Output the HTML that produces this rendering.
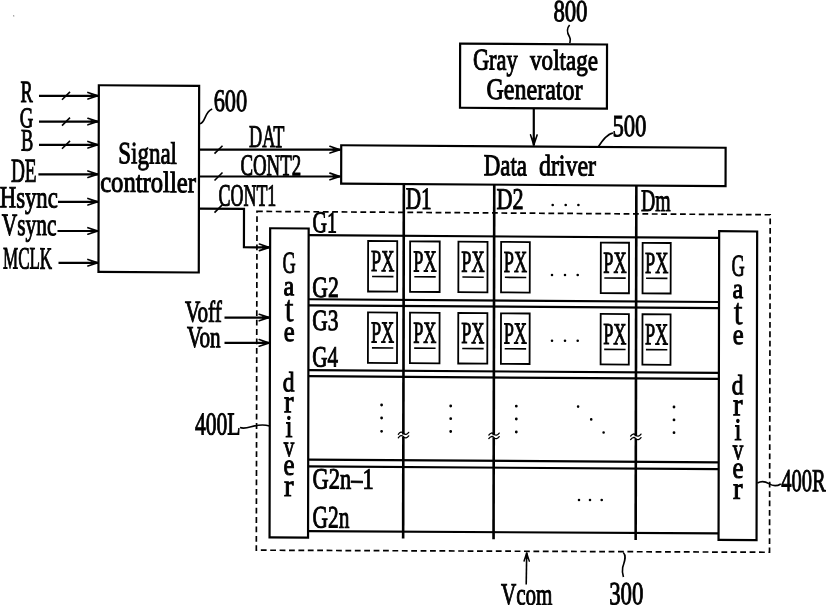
<!DOCTYPE html>
<html><head><meta charset="utf-8"><style>
html,body{margin:0;padding:0;background:#fff;width:826px;height:605px;overflow:hidden}
svg{display:block;will-change:transform}
text{font-family:"Liberation Serif",serif;fill:#000;stroke:#000;stroke-width:1.0px;font-weight:normal}
</style></head><body>
<svg width="826" height="605" viewBox="0 0 826 605">
<g transform="matrix(1 0.0066 -0.002 1 0.42 -1.716)" stroke="#000" stroke-linecap="butt">
<line x1="38.77" y1="97.26" x2="98.27" y2="96.87" stroke-width="2.2"/>
<path d="M87.67 100.17 L97.67 96.87 L87.67 93.57" stroke-width="1.6" fill="none" stroke-linecap="round" stroke-linejoin="round"/>
<path d="M90.67 98.02 L97.67 96.87 L90.67 95.71 Z" stroke-width="0.8" fill="#000" stroke-linejoin="round"/>
<line x1="61.77" y1="101.08" x2="69.77" y2="93.08" stroke-width="1.6"/>
<line x1="38.82" y1="123.06" x2="98.32" y2="122.67" stroke-width="2.2"/>
<path d="M87.72 125.97 L97.72 122.67 L87.72 119.37" stroke-width="1.6" fill="none" stroke-linecap="round" stroke-linejoin="round"/>
<path d="M90.72 123.82 L97.72 122.67 L90.72 121.51 Z" stroke-width="0.8" fill="#000" stroke-linejoin="round"/>
<line x1="61.82" y1="126.88" x2="69.82" y2="118.88" stroke-width="1.6"/>
<line x1="38.87" y1="146.26" x2="98.37" y2="145.87" stroke-width="2.2"/>
<path d="M87.77 149.17 L97.77 145.87 L87.77 142.57" stroke-width="1.6" fill="none" stroke-linecap="round" stroke-linejoin="round"/>
<path d="M90.77 147.02 L97.77 145.87 L90.77 144.71 Z" stroke-width="0.8" fill="#000" stroke-linejoin="round"/>
<line x1="61.87" y1="150.08" x2="69.87" y2="142.08" stroke-width="1.6"/>
<line x1="38.33" y1="175.76" x2="98.43" y2="175.37" stroke-width="2.2"/>
<path d="M87.83 178.67 L97.83 175.37 L87.83 172.07" stroke-width="1.6" fill="none" stroke-linecap="round" stroke-linejoin="round"/>
<path d="M90.83 176.52 L97.83 175.37 L90.83 174.21 Z" stroke-width="0.8" fill="#000" stroke-linejoin="round"/>
<line x1="57.98" y1="203.13" x2="98.48" y2="202.87" stroke-width="2.2"/>
<path d="M87.88 206.17 L97.88 202.87 L87.88 199.57" stroke-width="1.6" fill="none" stroke-linecap="round" stroke-linejoin="round"/>
<path d="M90.88 204.02 L97.88 202.87 L90.88 201.71 Z" stroke-width="0.8" fill="#000" stroke-linejoin="round"/>
<line x1="57.54" y1="232.34" x2="98.54" y2="232.07" stroke-width="2.2"/>
<path d="M87.94 235.37 L97.94 232.07 L87.94 228.77" stroke-width="1.6" fill="none" stroke-linecap="round" stroke-linejoin="round"/>
<path d="M90.94 233.22 L97.94 232.07 L90.94 230.91 Z" stroke-width="0.8" fill="#000" stroke-linejoin="round"/>
<line x1="58.61" y1="264.13" x2="98.61" y2="263.87" stroke-width="2.2"/>
<path d="M88.01 267.17 L98.01 263.87 L88.01 260.57" stroke-width="1.6" fill="none" stroke-linecap="round" stroke-linejoin="round"/>
<path d="M91.01 265.02 L98.01 263.87 L91.01 262.71 Z" stroke-width="0.8" fill="#000" stroke-linejoin="round"/>
<rect x="98.6" y="86.3" width="100.3" height="186.6" stroke-width="2.2" fill="none"/>
<text x="20.33" y="103.58" font-size="30.86" textLength="12.3" lengthAdjust="spacingAndGlyphs">R</text>
<text x="19.63" y="128.79" font-size="28.67" textLength="13.55" lengthAdjust="spacingAndGlyphs">G</text>
<text x="20.83" y="151.98" font-size="31.16" textLength="12.25" lengthAdjust="spacingAndGlyphs">B</text>
<text x="10.89" y="183.34" font-size="33.75" textLength="25.7" lengthAdjust="spacingAndGlyphs">DE</text>
<text x="-0.26" y="209.02" font-size="30.56" textLength="58.0" lengthAdjust="spacingAndGlyphs">Hsync</text>
<text x="1.85" y="236.6" font-size="31.16" textLength="54.65" lengthAdjust="spacingAndGlyphs">Vsync</text>
<text x="3.17" y="270.1" font-size="31.18" textLength="49.05" lengthAdjust="spacingAndGlyphs">MCLK</text>
<text x="118.26" y="164.23" font-size="31.08" textLength="58.65" lengthAdjust="spacingAndGlyphs">Signal</text>
<text x="100.16" y="192.75" font-size="29.59" textLength="95.75" lengthAdjust="spacingAndGlyphs">controller</text>
<text x="213.5" y="111.41" font-size="31.52" textLength="33.5" lengthAdjust="spacingAndGlyphs">600</text>
<path d="M199.63 124.2 C205.63 123.2 204 112.32 212 109.32" stroke-width="1.6" fill="none"/>
<rect x="459.8" y="42.2" width="146.9" height="64.2" stroke-width="2.2" fill="none"/>
<text x="553.02" y="19.26" font-size="30.81" textLength="34.1" lengthAdjust="spacingAndGlyphs">800</text>
<text x="472.62" y="68.09" font-size="30.19" textLength="44.85" lengthAdjust="spacingAndGlyphs">Gray</text>
<text x="529.82" y="67.72" font-size="28.84" textLength="67.8" lengthAdjust="spacingAndGlyphs">voltage</text>
<text x="486.28" y="97.41" font-size="29.88" textLength="96.05" lengthAdjust="spacingAndGlyphs">Generator</text>
<text x="612.25" y="133.87" font-size="31.12" textLength="34.0" lengthAdjust="spacingAndGlyphs">500</text>
<path d="M569.23 22.96 C565.73 26.96 566.73 30.96 569.23 34.96 C570.73 37.46 569.53 39.46 569.53 40.96" stroke-width="1.6" fill="none"/>
<line x1="533.6" y1="106.19" x2="533.67" y2="143.69" stroke-width="2.2"/>
<path d="M530.37 133.09 L533.67 143.09 L536.97 133.09" stroke-width="1.6" fill="none" stroke-linecap="round" stroke-linejoin="round"/>
<path d="M532.52 136.09 L533.67 143.09 L534.83 136.09 Z" stroke-width="0.8" fill="#000" stroke-linejoin="round"/>
<rect x="341.1" y="144.7" width="384.4" height="38.4" stroke-width="2.2" fill="none"/>
<path d="M598.37 144.27 C602.37 138.27 606.85 131.67 612.85 130.67" stroke-width="1.6" fill="none"/>
<text x="483.68" y="173.72" font-size="30.4" textLength="43.25" lengthAdjust="spacingAndGlyphs">Data</text>
<text x="538.93" y="173.36" font-size="29.76" textLength="56.95" lengthAdjust="spacingAndGlyphs">driver</text>
<text x="248.92" y="147.07" font-size="31.87" textLength="35.45" lengthAdjust="spacingAndGlyphs">DAT</text>
<text x="240.33" y="175.13" font-size="30.05" textLength="60.75" lengthAdjust="spacingAndGlyphs">CONT2</text>
<text x="218.49" y="205.77" font-size="31.11" textLength="57.85" lengthAdjust="spacingAndGlyphs">CONT1</text>
<text x="405.75" y="207.84" font-size="31.11" textLength="25.95" lengthAdjust="spacingAndGlyphs">D1</text>
<text x="496.55" y="207.44" font-size="30.19" textLength="27.0" lengthAdjust="spacingAndGlyphs">D2</text>
<text x="641.05" y="208.49" font-size="31.47" textLength="29.65" lengthAdjust="spacingAndGlyphs">Dm</text>
<line x1="199.38" y1="150.1" x2="340.38" y2="149.17" stroke-width="2.2"/>
<path d="M329.78 152.47 L339.78 149.17 L329.78 145.87" stroke-width="1.6" fill="none" stroke-linecap="round" stroke-linejoin="round"/>
<path d="M332.78 150.32 L339.78 149.17 L332.78 148.01 Z" stroke-width="0.8" fill="#000" stroke-linejoin="round"/>
<line x1="214.38" y1="153.97" x2="222.38" y2="145.97" stroke-width="1.6"/>
<line x1="199.43" y1="176.9" x2="340.43" y2="175.97" stroke-width="2.2"/>
<path d="M329.83 179.27 L339.83 175.97 L329.83 172.67" stroke-width="1.6" fill="none" stroke-linecap="round" stroke-linejoin="round"/>
<path d="M332.83 177.12 L339.83 175.97 L332.83 174.81 Z" stroke-width="0.8" fill="#000" stroke-linejoin="round"/>
<line x1="214.43" y1="180.77" x2="222.43" y2="172.77" stroke-width="1.6"/>
<path d="M199 209 L244 209 L244 247.33 L270.07 247.33" stroke-width="2.2" fill="none"/>
<path d="M259.47 250.63 L269.47 247.33 L259.47 244.03" stroke-width="1.6" fill="none" stroke-linecap="round" stroke-linejoin="round"/>
<path d="M262.47 248.49 L269.47 247.33 L262.47 246.18 Z" stroke-width="0.8" fill="#000" stroke-linejoin="round"/>
<line x1="214.5" y1="212.87" x2="222.5" y2="204.87" stroke-width="1.6"/>
<path d="M257 211.4 L770.2 211.4 L770.2 548.9 L257 550.2 Z" stroke-width="1.7" fill="none" stroke-dasharray="5.8 3.6"/>
<rect x="270.2" y="228.2" width="38.5" height="309.2" stroke-width="2.2" fill="none"/>
<rect x="719.2" y="228.2" width="38" height="308.6" stroke-width="2.2" fill="none"/>
<line x1="308.7" y1="234.85" x2="719.2" y2="234.85" stroke-width="2.2"/>
<line x1="308.7" y1="298.95" x2="719.2" y2="298.95" stroke-width="2.2"/>
<line x1="308.7" y1="305.05" x2="719.2" y2="305.05" stroke-width="2.2"/>
<line x1="308.7" y1="369.85" x2="719.2" y2="369.85" stroke-width="2.2"/>
<line x1="308.7" y1="375.9" x2="719.2" y2="375.9" stroke-width="2.2"/>
<line x1="308.7" y1="459.25" x2="719.2" y2="459.25" stroke-width="2.2"/>
<line x1="308.7" y1="466.1" x2="719.2" y2="466.1" stroke-width="2.2"/>
<line x1="308.7" y1="530.9" x2="719.2" y2="530.3" stroke-width="2.2"/>
<line x1="403.8" y1="183.1" x2="403.8" y2="433.45" stroke-width="2.6" stroke-linecap="butt"/>
<line x1="403.8" y1="436.05" x2="403.8" y2="537.6" stroke-width="2.6" stroke-linecap="butt"/>
<line x1="494.2" y1="183.1" x2="494.2" y2="433.66" stroke-width="2.6" stroke-linecap="butt"/>
<line x1="494.2" y1="436.26" x2="494.2" y2="537.6" stroke-width="2.6" stroke-linecap="butt"/>
<line x1="636.3" y1="183.1" x2="636.3" y2="433.72" stroke-width="2.6" stroke-linecap="butt"/>
<line x1="636.3" y1="436.32" x2="636.3" y2="537.6" stroke-width="2.6" stroke-linecap="butt"/>
<rect x="368.2" y="240.3" width="29.1" height="50.5" stroke-width="1.8" fill="none"/>
<text x="371.15" y="270.4" font-size="30.7" textLength="23.25" lengthAdjust="spacingAndGlyphs">PX</text>
<line x1="372.2" y1="275.7" x2="393.6" y2="275.7" stroke-width="1.6"/>
<rect x="410.2" y="240.3" width="29.6" height="50.5" stroke-width="1.8" fill="none"/>
<text x="413.4" y="270.4" font-size="30.7" textLength="23.25" lengthAdjust="spacingAndGlyphs">PX</text>
<line x1="414.45" y1="275.7" x2="435.85" y2="275.7" stroke-width="1.6"/>
<rect x="458.5" y="240.3" width="29.1" height="50.5" stroke-width="1.8" fill="none"/>
<text x="461.45" y="270.4" font-size="30.7" textLength="23.25" lengthAdjust="spacingAndGlyphs">PX</text>
<line x1="462.5" y1="275.7" x2="483.9" y2="275.7" stroke-width="1.6"/>
<rect x="501.2" y="240.3" width="28.7" height="50.5" stroke-width="1.8" fill="none"/>
<text x="503.95" y="270.4" font-size="30.7" textLength="23.25" lengthAdjust="spacingAndGlyphs">PX</text>
<line x1="505" y1="275.7" x2="526.4" y2="275.7" stroke-width="1.6"/>
<rect x="600.9" y="240.3" width="28.2" height="50.5" stroke-width="1.8" fill="none"/>
<text x="603.4" y="270.4" font-size="30.7" textLength="23.25" lengthAdjust="spacingAndGlyphs">PX</text>
<line x1="604.45" y1="275.7" x2="625.85" y2="275.7" stroke-width="1.6"/>
<rect x="642.7" y="240.3" width="28.1" height="50.5" stroke-width="1.8" fill="none"/>
<text x="645.15" y="270.4" font-size="30.7" textLength="23.25" lengthAdjust="spacingAndGlyphs">PX</text>
<line x1="646.2" y1="275.7" x2="667.6" y2="275.7" stroke-width="1.6"/>
<rect x="368.2" y="311.7" width="29.1" height="50.5" stroke-width="1.8" fill="none"/>
<text x="371.15" y="341.8" font-size="30.7" textLength="23.25" lengthAdjust="spacingAndGlyphs">PX</text>
<line x1="372.2" y1="347.1" x2="393.6" y2="347.1" stroke-width="1.6"/>
<rect x="410.2" y="311.7" width="29.6" height="50.5" stroke-width="1.8" fill="none"/>
<text x="413.4" y="341.8" font-size="30.7" textLength="23.25" lengthAdjust="spacingAndGlyphs">PX</text>
<line x1="414.45" y1="347.1" x2="435.85" y2="347.1" stroke-width="1.6"/>
<rect x="458.5" y="311.7" width="29.1" height="50.5" stroke-width="1.8" fill="none"/>
<text x="461.45" y="341.8" font-size="30.7" textLength="23.25" lengthAdjust="spacingAndGlyphs">PX</text>
<line x1="462.5" y1="347.1" x2="483.9" y2="347.1" stroke-width="1.6"/>
<rect x="501.2" y="311.7" width="28.7" height="50.5" stroke-width="1.8" fill="none"/>
<text x="503.95" y="341.8" font-size="30.7" textLength="23.25" lengthAdjust="spacingAndGlyphs">PX</text>
<line x1="505" y1="347.1" x2="526.4" y2="347.1" stroke-width="1.6"/>
<rect x="600.9" y="311.7" width="28.2" height="50.5" stroke-width="1.8" fill="none"/>
<text x="603.4" y="341.8" font-size="30.7" textLength="23.25" lengthAdjust="spacingAndGlyphs">PX</text>
<line x1="604.45" y1="347.1" x2="625.85" y2="347.1" stroke-width="1.6"/>
<rect x="642.7" y="311.7" width="28.1" height="50.5" stroke-width="1.8" fill="none"/>
<text x="645.15" y="341.8" font-size="30.7" textLength="23.25" lengthAdjust="spacingAndGlyphs">PX</text>
<line x1="646.2" y1="347.1" x2="667.6" y2="347.1" stroke-width="1.6"/>
<text x="312.64" y="231.95" font-size="30.2" textLength="24.45" lengthAdjust="spacingAndGlyphs">G1</text>
<text x="312.47" y="296.65" font-size="29.43" textLength="26.45" lengthAdjust="spacingAndGlyphs">G2</text>
<text x="312.54" y="329.65" font-size="29.43" textLength="26.2" lengthAdjust="spacingAndGlyphs">G3</text>
<text x="312.61" y="366.15" font-size="29.43" textLength="25.7" lengthAdjust="spacingAndGlyphs">G4</text>
<text x="313.16" y="488.15" font-size="29.58" textLength="61.0" lengthAdjust="spacingAndGlyphs">G2n–1</text>
<text x="313.24" y="527.15" font-size="31.26" textLength="36.8" lengthAdjust="spacingAndGlyphs">G2n</text>
<text x="185.12" y="322.1" font-size="30.18" textLength="36.85" lengthAdjust="spacingAndGlyphs">Voff</text>
<text x="187.17" y="347.48" font-size="30.41" textLength="33.7" lengthAdjust="spacingAndGlyphs">Von</text>
<text x="195.35" y="434.83" font-size="32.02" textLength="45.6" lengthAdjust="spacingAndGlyphs">400L</text>
<text x="781.86" y="487.66" font-size="31.97" textLength="44.45" lengthAdjust="spacingAndGlyphs">400R</text>
<text x="501.79" y="602.91" font-size="31.01" textLength="51.5" lengthAdjust="spacingAndGlyphs">Vcom</text>
<text x="609.94" y="601.9" font-size="32.48" textLength="34.25" lengthAdjust="spacingAndGlyphs">300</text>
<text x="282.63" y="272.7" font-size="30.68" textLength="13.15" lengthAdjust="spacingAndGlyphs">G</text>
<text x="731.63" y="272.7" font-size="30.68" textLength="13.15" lengthAdjust="spacingAndGlyphs">G</text>
<text x="283.77" y="294.99" font-size="28.29" textLength="10.7" lengthAdjust="spacingAndGlyphs">a</text>
<text x="732.78" y="294.99" font-size="28.29" textLength="10.7" lengthAdjust="spacingAndGlyphs">a</text>
<text x="285.02" y="0" transform="translate(0 320.79) scale(1 1.195)" style="stroke-width:0.5px" font-size="31" textLength="8.8" lengthAdjust="spacingAndGlyphs">t</text>
<text x="734.03" y="0" transform="translate(0 320.79) scale(1 1.195)" style="stroke-width:0.5px" font-size="31" textLength="8.8" lengthAdjust="spacingAndGlyphs">t</text>
<text x="284.06" y="340.89" font-size="28.74" textLength="10.9" lengthAdjust="spacingAndGlyphs">e</text>
<text x="733.07" y="340.89" font-size="28.74" textLength="10.9" lengthAdjust="spacingAndGlyphs">e</text>
<text x="283.06" y="391.1" font-size="28.01" textLength="11.75" lengthAdjust="spacingAndGlyphs">d</text>
<text x="732.07" y="391.1" font-size="28.01" textLength="11.75" lengthAdjust="spacingAndGlyphs">d</text>
<text x="284.5" y="412.14" font-size="32.03" textLength="9.55" lengthAdjust="spacingAndGlyphs">r</text>
<text x="733.51" y="412.14" font-size="32.03" textLength="9.55" lengthAdjust="spacingAndGlyphs">r</text>
<text x="285.95" y="436.83" font-size="31.48" textLength="7.0" lengthAdjust="spacingAndGlyphs">i</text>
<text x="734.96" y="436.83" font-size="31.48" textLength="7.0" lengthAdjust="spacingAndGlyphs">i</text>
<text x="284.24" y="456.19" font-size="29.73" textLength="10.5" lengthAdjust="spacingAndGlyphs">v</text>
<text x="733.25" y="456.19" font-size="29.73" textLength="10.5" lengthAdjust="spacingAndGlyphs">v</text>
<text x="283.93" y="474.7" font-size="30.51" textLength="11.0" lengthAdjust="spacingAndGlyphs">e</text>
<text x="732.94" y="474.7" font-size="30.51" textLength="11.0" lengthAdjust="spacingAndGlyphs">e</text>
<text x="284.67" y="495.74" font-size="31.13" textLength="9.55" lengthAdjust="spacingAndGlyphs">r</text>
<text x="733.68" y="495.74" font-size="31.13" textLength="9.55" lengthAdjust="spacingAndGlyphs">r</text>
<line x1="224.72" y1="317.83" x2="270.02" y2="317.54" stroke-width="2.2"/>
<path d="M259.42 320.84 L269.42 317.54 L259.42 314.24" stroke-width="1.6" fill="none" stroke-linecap="round" stroke-linejoin="round"/>
<path d="M262.42 318.69 L269.42 317.54 L262.42 316.38 Z" stroke-width="0.8" fill="#000" stroke-linejoin="round"/>
<line x1="224.77" y1="343.13" x2="270.07" y2="342.84" stroke-width="2.2"/>
<path d="M259.47 346.14 L269.47 342.84 L259.47 339.54" stroke-width="1.6" fill="none" stroke-linecap="round" stroke-linejoin="round"/>
<path d="M262.47 343.99 L269.47 342.84 L262.47 341.68 Z" stroke-width="0.8" fill="#000" stroke-linejoin="round"/>
<path d="M240.44 427.73 C248.44 430.73 255.93 421.94 269.93 425.94" stroke-width="1.6" fill="none"/>
<path d="M757.95 479.72 Q763.45 476.52 769.45 480.32 T781.35 480.52" stroke-width="1.6" fill="none"/>
<line x1="526.95" y1="582.64" x2="527.38" y2="550.74" stroke-width="1.6"/>
<path d="M529.99 559.34 L527.38 551.34 L524.78 559.34" stroke-width="1.5" fill="none" stroke-linecap="round" stroke-linejoin="round"/>
<path d="M528.29 556.94 L527.38 551.34 L526.48 556.94 Z" stroke-width="0.8" fill="#000" stroke-linejoin="round"/>
<path d="M623.98 550.1 C627.98 554.1 624.48 560.1 623.38 565.1 C622.58 569.1 623.48 572.1 624.18 574.6" stroke-width="1.6" fill="none"/>
<circle cx="552.69" cy="203.07" r="1.3" fill="#000" stroke="none"/>
<circle cx="565.69" cy="202.98" r="1.3" fill="#000" stroke="none"/>
<circle cx="578.39" cy="202.9" r="1.3" fill="#000" stroke="none"/>
<circle cx="552.13" cy="273.07" r="1.3" fill="#000" stroke="none"/>
<circle cx="552.26" cy="338.77" r="1.3" fill="#000" stroke="none"/>
<circle cx="565.13" cy="272.99" r="1.3" fill="#000" stroke="none"/>
<circle cx="565.26" cy="338.69" r="1.3" fill="#000" stroke="none"/>
<circle cx="577.83" cy="272.9" r="1.3" fill="#000" stroke="none"/>
<circle cx="577.96" cy="338.6" r="1.3" fill="#000" stroke="none"/>
<circle cx="579.58" cy="497.89" r="1.3" fill="#000" stroke="none"/>
<circle cx="590.58" cy="497.82" r="1.3" fill="#000" stroke="none"/>
<circle cx="602.28" cy="497.74" r="1.3" fill="#000" stroke="none"/>
<circle cx="381.99" cy="404.2" r="1.4" fill="#000" stroke="none"/>
<circle cx="382.02" cy="417.2" r="1.4" fill="#000" stroke="none"/>
<circle cx="382.04" cy="430.5" r="1.4" fill="#000" stroke="none"/>
<circle cx="451.09" cy="404.74" r="1.4" fill="#000" stroke="none"/>
<circle cx="451.12" cy="417.44" r="1.4" fill="#000" stroke="none"/>
<circle cx="451.14" cy="430.24" r="1.4" fill="#000" stroke="none"/>
<circle cx="516.69" cy="404.51" r="1.4" fill="#000" stroke="none"/>
<circle cx="516.72" cy="417.31" r="1.4" fill="#000" stroke="none"/>
<circle cx="516.74" cy="430.31" r="1.4" fill="#000" stroke="none"/>
<circle cx="674.39" cy="404.27" r="1.4" fill="#000" stroke="none"/>
<circle cx="674.42" cy="417.17" r="1.4" fill="#000" stroke="none"/>
<circle cx="674.45" cy="429.97" r="1.4" fill="#000" stroke="none"/>
<circle cx="578.49" cy="404.5" r="1.3" fill="#000" stroke="none"/>
<circle cx="591.62" cy="417.21" r="1.3" fill="#000" stroke="none"/>
<circle cx="604.05" cy="430.23" r="1.3" fill="#000" stroke="none"/>
<path d="M398.75 433.35 Q401.35 429.75 403.95 432.35 T409.15 431.35" stroke-width="1.3" fill="none" stroke-linecap="round"/>
<path d="M398.75 436.85 Q401.35 433.25 403.95 435.85 T409.15 434.85" stroke-width="1.3" fill="none" stroke-linecap="round"/>
<path d="M489.25 433.56 Q491.85 429.96 494.45 432.56 T499.65 431.56" stroke-width="1.3" fill="none" stroke-linecap="round"/>
<path d="M489.25 437.06 Q491.85 433.46 494.45 436.06 T499.65 435.06" stroke-width="1.3" fill="none" stroke-linecap="round"/>
<path d="M631.05 433.62 Q633.65 430.02 636.25 432.62 T641.45 431.62" stroke-width="1.3" fill="none" stroke-linecap="round"/>
<path d="M631.05 437.12 Q633.65 433.52 636.25 436.12 T641.45 435.12" stroke-width="1.3" fill="none" stroke-linecap="round"/>
<circle cx="13.3" cy="17.5" r="0.7" fill="#777" stroke="none"/>
</g></svg></body></html>
